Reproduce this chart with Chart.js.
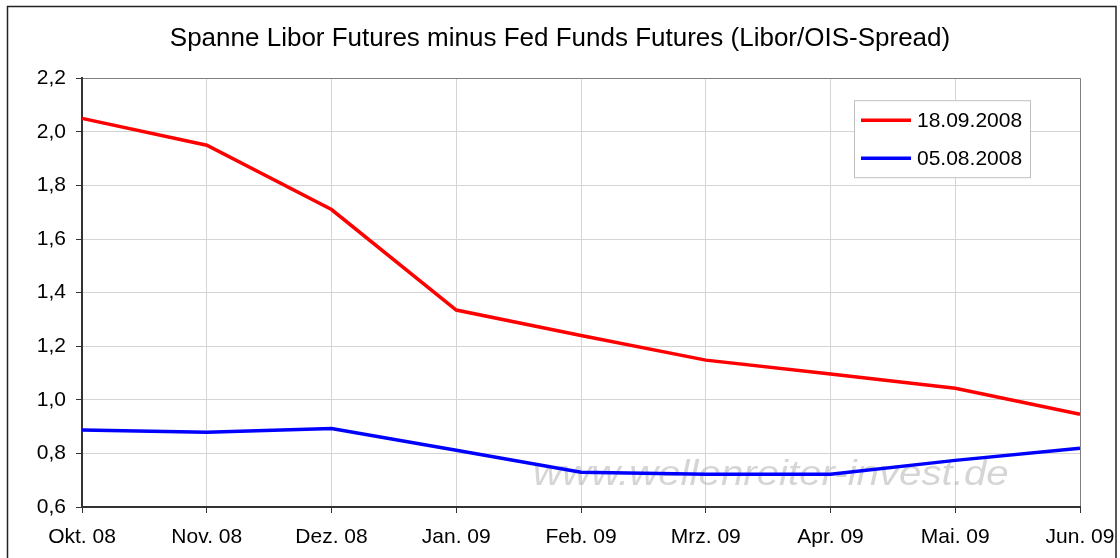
<!DOCTYPE html>
<html>
<head>
<meta charset="utf-8">
<script src="https://cdn.jsdelivr.net/npm/chart.js@4/dist/chart.umd.min.js"></script>
<style>
  body { margin: 0; background: #fff; }
  canvas { display: block; }
</style>
</head>
<body>
<canvas id="chart" width="1120" height="558"></canvas>
<script>
const months = ['Okt. 08', 'Nov. 08', 'Dez. 08', 'Jan. 09', 'Feb. 09', 'Mrz. 09', 'Apr. 09', 'Mai. 09', 'Jun. 09'];
const spread180908 = [2.05, 1.95, 1.71, 1.335, 1.24, 1.148, 1.096, 1.043, 0.946];
const spread050808 = [0.887, 0.879, 0.893, 0.812, 0.730, 0.722, 0.722, 0.774, 0.819];
const seriesLabels = ['18.09.2008', '05.08.2008'];
const yTicks = { min: 0.6, max: 2.2, step: 0.2 };

const FONT = '"Liberation Sans", Arial, sans-serif';

// outer frame + watermark behind the lines
const framePlugin = {
  id: 'frame',
  beforeDraw(chart) {
    const ctx = chart.ctx;
    ctx.save();
    ctx.fillStyle = '#fff';
    ctx.fillRect(0, 0, chart.width, chart.height);
    ctx.strokeStyle = '#222';
    ctx.lineWidth = 1.5;
    ctx.strokeRect(7.5, 6.5, 1108.5, 600);
    ctx.restore();
  },
  beforeDatasetsDraw(chart) {
    const ctx = chart.ctx;
    const a = chart.chartArea;
    ctx.save();
    // the original watermark is a bit wider than plain italic
    ctx.translate(a.left + 451, a.bottom - 22);
    ctx.scale(1.15, 1);
    ctx.font = 'italic 35px ' + FONT;
    ctx.fillStyle = 'rgba(185,185,185,0.6)';
    ctx.textBaseline = 'alphabetic';
    ctx.fillText('www.wellenreiter-invest.de', 0, 0);
    ctx.restore();
  }
};

// legend box drawn inside the plot area, top right
const legendPlugin = {
  id: 'boxLegend',
  afterDraw(chart) {
    const ctx = chart.ctx;
    const a = chart.chartArea;
    const x = a.right - 226, y = a.top + 22, w = 176, h = 77;
    ctx.save();
    ctx.fillStyle = '#fff';
    ctx.fillRect(x, y, w, h);
    ctx.strokeStyle = '#c0c0c0';
    ctx.lineWidth = 1;
    ctx.strokeRect(x + 0.5, y + 0.5, w, h);
    ctx.font = '21px ' + FONT;
    ctx.textBaseline = 'middle';
    chart.data.datasets.forEach((ds, i) => {
      const ly = y + 20 + i * 38;
      ctx.strokeStyle = ds.borderColor;
      ctx.lineWidth = 3.5;
      ctx.beginPath();
      ctx.moveTo(x + 7, ly);
      ctx.lineTo(x + 57, ly);
      ctx.stroke();
      ctx.fillStyle = '#000';
      ctx.fillText(ds.label, x + 63, ly + 1);
    });
    ctx.restore();
  }
};

new Chart(document.getElementById('chart'), {
  type: 'line',
  data: {
    labels: months,
    datasets: [
      { label: seriesLabels[0], data: spread180908, borderColor: '#ff0000', borderWidth: 3.5, pointRadius: 0, tension: 0 },
      { label: seriesLabels[1], data: spread050808, borderColor: '#0000ff', borderWidth: 3.5, pointRadius: 0, tension: 0 }
    ]
  },
  options: {
    responsive: false,
    animation: false,
    devicePixelRatio: 1,
    layout: { padding: 0 },
    plugins: {
      legend: { display: false },
      tooltip: { enabled: false },
      title: {
        display: true,
        text: 'Spanne Libor Futures minus Fed Funds Futures (Libor/OIS-Spread)',
        color: '#000',
        font: { family: FONT, size: 26, weight: 'normal' },
        padding: { top: 23, bottom: 24 }
      }
    },
    scales: {
      x: {
        offset: false,
        grid: {
          color: (c) => c.index === months.length - 1 ? '#808080' : '#d4d4d4',
          tickColor: '#333',
          tickLength: 6
        },
        border: { color: '#333', width: 2 },
        ticks: { color: '#000', font: { family: FONT, size: 21 }, padding: 12, maxRotation: 0, autoSkip: false },
        afterFit: (s) => { s.height = 51; s.paddingLeft = 0; s.paddingRight = 40; }
      },
      y: {
        min: yTicks.min,
        max: yTicks.max,
        grid: {
          color: (c) => c.tick && Math.abs(c.tick.value - yTicks.max) < 1e-6 ? '#808080' : '#d4d4d4',
          tickColor: '#333',
          tickLength: 6
        },
        border: { color: '#333', width: 2 },
        ticks: {
          stepSize: yTicks.step,
          color: '#000',
          font: { family: FONT, size: 21 },
          padding: 10,
          callback: (v) => v.toFixed(1).replace('.', ',')
        },
        afterFit: (s) => { s.width = 82; }
      }
    }
  },
  plugins: [framePlugin, legendPlugin]
});
</script>
</body>
</html>
